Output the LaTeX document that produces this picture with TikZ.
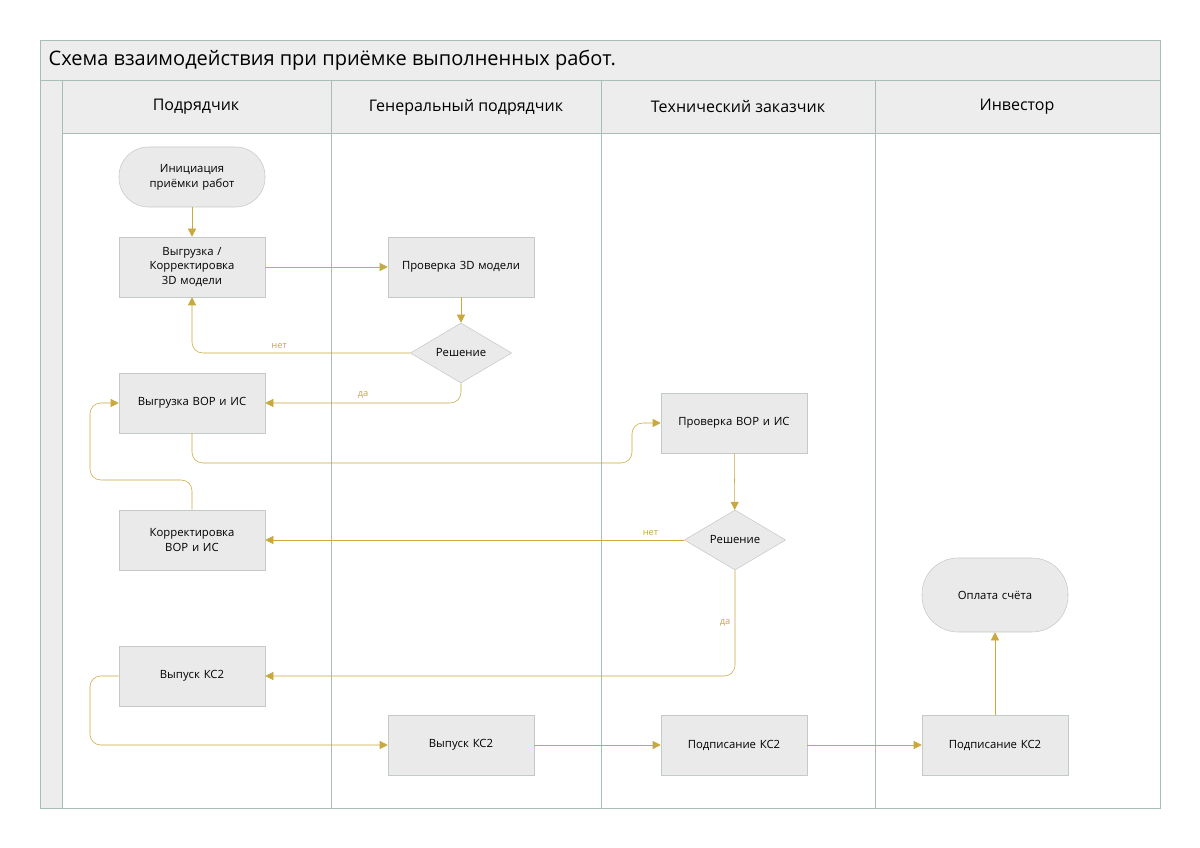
\documentclass[tikz,border=0pt]{standalone}
\usepackage{fontspec}
\setmainfont{Open Sans}
\usetikzlibrary{shapes.geometric,arrows.meta}
\definecolor{frame}{HTML}{A9BDB2}
\definecolor{band}{HTML}{EDEDED}
\definecolor{box}{HTML}{EAEAEA}
\definecolor{boxline}{HTML}{C4CAC6}
\definecolor{flow}{HTML}{C9A93E}
\tikzset{
  task/.style={draw=boxline,fill=box,minimum width=109.5pt,minimum height=45pt,align=center,font=\fontsize{8.5}{11}\selectfont,text width=100pt},
  term/.style={task,rounded corners=22pt},
  choice/.style={diamond,draw=boxline,fill=box,minimum width=76pt,minimum height=45pt,aspect=1.7,inner sep=0pt,font=\fontsize{8.5}{11}\selectfont},
  flowline/.style={draw=flow,-{Triangle[length=6pt,width=6pt]},rounded corners=8pt},
  lbl/.style={text=flow,font=\fontsize{7}{9}\selectfont},
  lane/.style={font=\fontsize{12}{14}\selectfont}
}
\begin{document}
\begin{tikzpicture}[x=0.75pt,y=-0.75pt]
\useasboundingbox (0,0) rectangle (1200,848);
% frame and lanes
\draw[frame,fill=white] (40,40) rectangle (1160,808);
\fill[band] (40,40) rectangle (1160,80);
\fill[band] (40,80) rectangle (62,808);
\fill[band] (62,80) rectangle (1160,133);
\draw[frame] (40,40) rectangle (1160,808);
\draw[frame] (40,80) -- (1160,80);
\draw[frame] (62,133) -- (1160,133);
\foreach \x in {62,331,601,875} \draw[frame] (\x,80) -- (\x,808);
\node[anchor=west,font=\fontsize{15}{18}\selectfont] (title) at (44,60) {Схема взаимодействия при приёмке выполненных работ.};
\node[lane] (h1) at (196,107) {Подрядчик};
\node[lane] (h2) at (466,107) {Генеральный подрядчик};
\node[lane] (h3) at (738,107) {Технический заказчик};
\node[lane] (h4) at (1017,107) {Инвестор};

% nodes
\node[term] (start) at (192,177) {Инициация приёмки работ};
\node[task] (load3d) at (192,267) {Выгрузка / Корректировка 3D модели};
\node[task] (check3d) at (461,267) {Проверка 3D модели};
\node[choice] (dec1) at (461,353) {Решение};
\node[task] (vor) at (192,403) {Выгрузка ВОР и ИС};
\node[task] (checkvor) at (734,423) {Проверка ВОР и ИС};
\node[choice] (dec2) at (735,540) {Решение};
\node[task] (fixvor) at (192,540) {Корректировка ВОР и ИС};
\node[term,minimum height=55.5pt,rounded corners=27pt] (pay) at (995,595) {Оплата счёта};
\node[task] (ksa) at (192,676) {Выпуск КС2};
\node[task] (ksb) at (461,745) {Выпуск КС2};
\node[task] (signa) at (734,745) {Подписание КС2};
\node[task] (signb) at (995,745) {Подписание КС2};

% connectors
\draw[flowline] (start) -- (load3d);
\draw[flowline] (load3d) -- (check3d);
\draw[flowline] (check3d) -- (dec1);
\draw[flowline] (dec1.west) -| node[lbl,pos=0.3,above] {нет} (load3d.south);
\draw[flowline] (dec1.south) |- node[lbl,pos=0.75,above] {да} (vor.east);
\draw[flowline] (vor.south) |- (632,463) |- (checkvor.west);
\draw[flowline] (checkvor) -- (dec2);
\draw[flowline] (dec2.west) -- node[lbl,pos=0.08,above] {нет} (fixvor.east);
\draw[flowline] (fixvor.north) |- (90,480) |- (vor.west);
\draw[flowline] (dec2.south) |- node[lbl,pos=0.25,left] {да} (ksa.east);
\draw[flowline] (ksa.west) -| (90,745) -- (ksb.west);
\draw[flowline] (ksb) -- (signa);
\draw[flowline] (signa) -- (signb);
\draw[flowline] (signb) -- (pay);
\end{tikzpicture}
\end{document}
